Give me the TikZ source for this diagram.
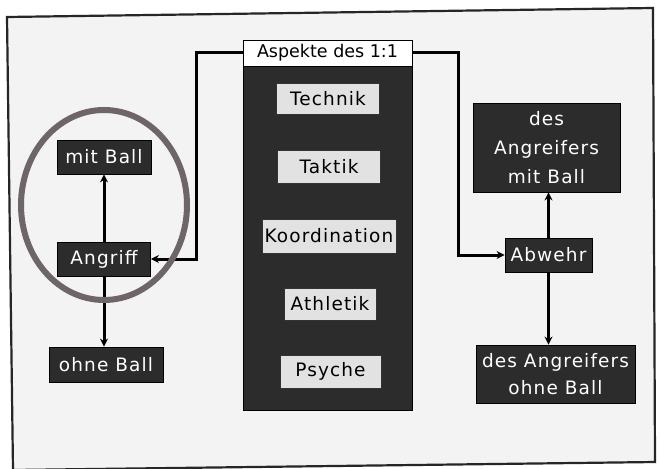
\documentclass[tikz,border=0pt]{standalone}
\usepackage{fontspec}
\setmainfont{DejaVu Sans}
\newfontfamily\spfont[LetterSpace=6]{DejaVu Sans}
\usetikzlibrary{arrows.meta,positioning}
\definecolor{bgin}{HTML}{F3F3F3}
\definecolor{boxdark}{HTML}{2C2C2C}
\definecolor{boxlight}{HTML}{E2E2E2}
\definecolor{ring}{HTML}{6E6666}
\tikzset{
  darkbox/.style={draw=black, line width=0.8pt, fill=boxdark, text=white, inner sep=0pt, align=center, font=\spfont\fontsize{18.5}{29}\selectfont},
  lightbox/.style={draw=black!80, line width=0.8pt, fill=boxlight, text=black, inner sep=0pt, align=center, font=\spfont\fontsize{18.5}{22}\selectfont},
  conn/.style={line width=3pt, black, -{Stealth[length=8pt,width=8pt]}},
}
\begin{document}
\begin{tikzpicture}[x=1pt,y=-1pt]
\useasboundingbox (0,0) rectangle (660,468);
\fill[white] (0,0) rectangle (660,468);
% outer frame (slightly rotated scan)
\filldraw[fill=bgin, draw=black!85, line width=2.2pt] (7,17) -- (653,8) -- (655,462) -- (13,470) -- cycle;
% central panel
\node[draw=black, line width=0.8pt, fill=boxdark, minimum width=169pt, minimum height=370pt, inner sep=0pt] (panel) at (327.5,225) {};
\node[draw=black, line width=0.8pt, fill=white, minimum width=169pt, minimum height=26pt, inner sep=0pt, font=\fontsize{17.5}{20}\selectfont] (hdr) at (327.5,53) {Aspekte des 1:1};
\node[lightbox, minimum width=103pt, minimum height=31pt] (technik) at (328,99) {Technik};
\node[lightbox, minimum width=103pt, minimum height=33pt] (taktik) at (329,166.5) {Taktik};
\node[lightbox, minimum width=134pt, minimum height=34pt] (koord) at (329,236) {Koordination};
\node[lightbox, minimum width=92pt, minimum height=32pt] (athletik) at (330,304) {Athletik};
\node[lightbox, minimum width=101pt, minimum height=33pt] (psyche) at (330.5,371.5) {Psyche};
% left side
\node[darkbox, minimum width=94pt, minimum height=34pt] (mitball) at (104,157) {mit Ball};
\node[darkbox, minimum width=93pt, minimum height=34pt] (angriff) at (104,259) {Angriff};
\node[darkbox, minimum width=114pt, minimum height=35pt] (ohneball) at (106,364.5) {ohne Ball};
% right side
\node[darkbox, minimum width=87pt, minimum height=34pt] (abwehr) at (548.5,255) {Abwehr};
\node[darkbox, minimum width=147pt, minimum height=89pt] (amit) at (546.5,147.5) {des\\Angreifers\\mit Ball};
\node[darkbox, minimum width=159pt, minimum height=58pt, font=\spfont\fontsize{18.5}{27}\selectfont] (aohne) at (555.5,374) {des Angreifers\\ohne Ball};
% connectors
\coordinate (lc) at (196,53);
\coordinate (rc) at (458,53);
\draw[conn] (hdr.west) -- (lc) |- (angriff.east);
\draw[conn] (hdr.east) -- (rc) |- (abwehr.west);
\draw[conn] (angriff.north) -- (angriff.north |- mitball.south);
\draw[conn] (angriff.south) -- (angriff.south |- ohneball.north);
\draw[conn] (abwehr.north) -- (abwehr.north |- amit.south);
\draw[conn] (abwehr.south) -- (abwehr.south |- aohne.north);
% ring
\draw[ring, line width=6pt] (104,205) ellipse [x radius=83pt, y radius=95pt];
\end{tikzpicture}
\end{document}
